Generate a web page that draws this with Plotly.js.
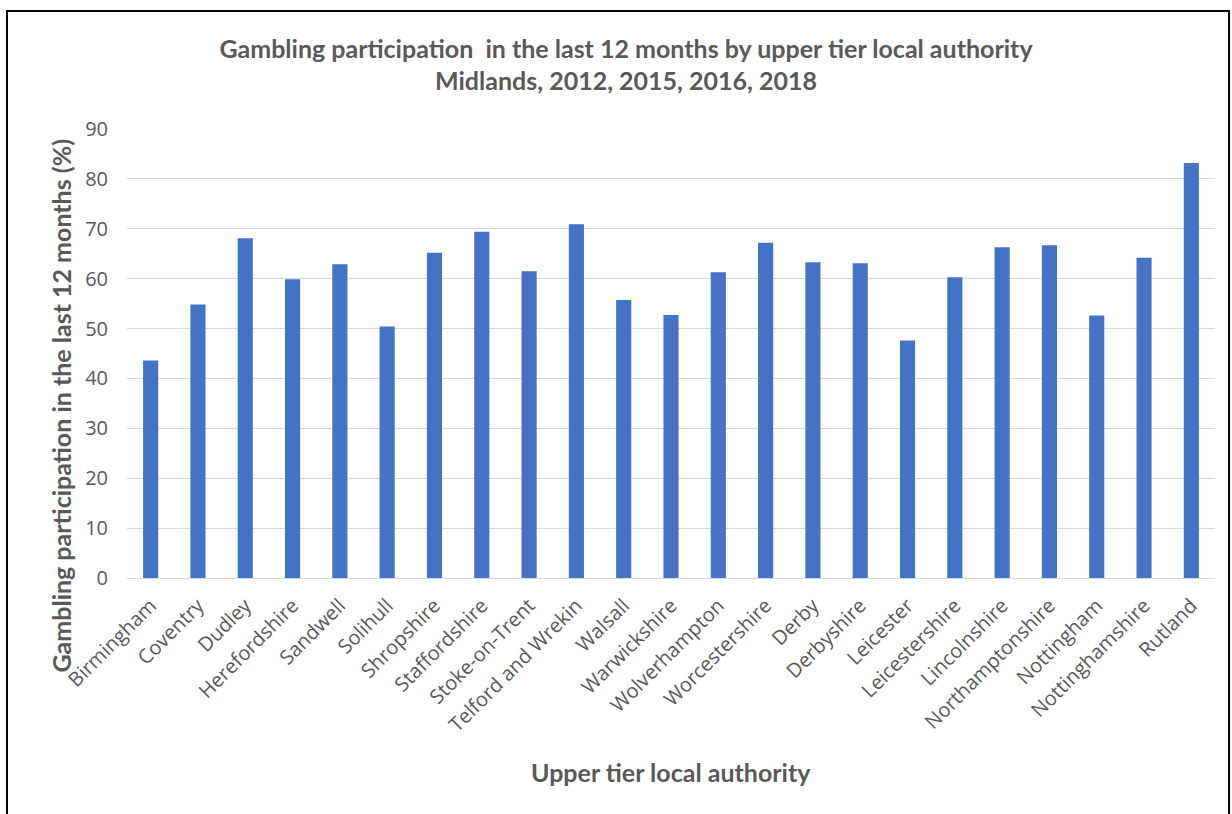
<!DOCTYPE html>
<html>
<head>
<meta charset="utf-8">
<script src="https://cdn.plot.ly/plotly-3.0.1.min.js"></script>
<style>
html,body{margin:0;padding:0;background:#fff;}
#chart{width:1232px;height:814px;}
</style>
</head>
<body>
<div id="chart"></div>
<script>
const authorities = ["Birmingham","Coventry","Dudley","Herefordshire","Sandwell","Solihull","Shropshire","Staffordshire","Stoke-on-Trent","Telford and Wrekin","Walsall","Warwickshire","Wolverhampton","Worcestershire","Derby","Derbyshire","Leicester","Leicestershire","Lincolnshire","Northamptonshire","Nottingham","Nottinghamshire","Rutland"];
const participation = [43.6,54.8,68.1,59.9,62.9,50.4,65.2,69.4,61.5,70.9,55.7,52.7,61.3,67.2,63.3,63.1,47.6,60.3,66.3,66.7,52.6,64.2,83.2];
const yTicks = [0,10,20,30,40,50,60,70,80,90];
const chartTitle = "<b>Gambling participation  in the last 12 months by upper tier local authority</b><br><b>Midlands, 2012, 2015, 2016, 2018</b>";
const xTitle = "<b>Upper tier local authority</b>";
const yTitle = "<b>Gambling participation in the last 12 months (%)</b>";

const grey = "#595959";
const boldFam = "Lato, 'Open Sans', sans-serif";
const tickFam = "'Open Sans', sans-serif";

const trace = {
  type: "bar",
  x: authorities,
  y: participation,
  marker: {color: "#4472C4"},
  hoverinfo: "x+y"
};

const layout = {
  width: 1232, height: 814,
  margin: {l: 127, r: 17, t: 129, b: 236},
  paper_bgcolor: "#fff", plot_bgcolor: "#fff",
  bargap: 0.68,
  showlegend: false,
  font: {family: tickFam, color: grey},
  title: {
    text: chartTitle,
    font: {family: boldFam, size: 25, color: grey},
    xref: "container", x: 626/1232, xanchor: "center",
    yref: "container", y: 1 - 57.5/814, yanchor: "middle"
  },
  xaxis: {
    type: "category",
    tickangle: -45,
    tickfont: {family: tickFam, size: 20, color: grey},
    showgrid: false,
    showline: true, linecolor: "#d9d9d9", linewidth: 1,
    ticks: "",
    ticklabelstandoff: 7,
    automargin: false
  },
  yaxis: {
    range: [0, 90],
    tickvals: yTicks,
    tickfont: {family: tickFam, size: 20, color: grey},
    gridcolor: "#d9d9d9", gridwidth: 1,
    zeroline: false,
    showline: false,
    ticks: "",
    ticklabelstandoff: 18,
    automargin: false
  },
  annotations: [
    {text: xTitle, xref: "paper", yref: "paper", x: 0.5, y: (578-772)/449,
     xanchor: "center", yanchor: "middle", showarrow: false,
     font: {family: boldFam, size: 25, color: grey}},
    {text: yTitle, xref: "paper", yref: "paper", x: (60-127)/1088, y: (578-405.5)/449,
     xanchor: "center", yanchor: "middle", showarrow: false, textangle: -90,
     font: {family: boldFam, size: 25, color: grey}}
  ],
  shapes: [{
    type: "rect", xref: "paper", yref: "paper",
    x0: -0.1103, x1: 1.0129, y0: -0.54, y1: 1.263,
    line: {color: "#000", width: 2}, fillcolor: "rgba(0,0,0,0)", layer: "above"
  }]
};

Plotly.newPlot("chart", [trace], layout, {displayModeBar: false, staticPlot: true});
</script>
</body>
</html>
